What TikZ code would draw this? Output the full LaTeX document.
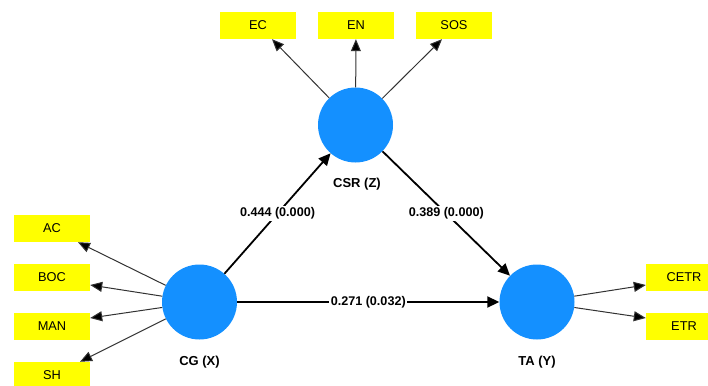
\documentclass[tikz,border=0pt]{standalone}
\usepackage{fontspec}
\setmainfont{Liberation Sans}
\usetikzlibrary{arrows.meta}
\definecolor{latblue}{RGB}{20,144,255}
\definecolor{indyel}{RGB}{255,255,0}
\definecolor{outgray}{RGB}{50,50,50}
\begin{document}
\begin{tikzpicture}[x=1pt,y=-1pt,
  latent/.style={circle,fill=latblue,minimum size=75pt,inner sep=0pt},
  indicator/.style={fill=indyel,minimum width=76pt,minimum height=27pt,inner sep=0pt,font=\fontsize{12.8}{15}\selectfont},
  latlabel/.style={font=\bfseries\fontsize{13}{15}\selectfont},
  outarrow/.style={draw=outgray,line width=1pt,-{Triangle[length=12pt,width=10pt,fill=black]}},
  patharrow/.style={draw=black,line width=1.8pt,-{Triangle[length=12pt,width=11pt]}},
  pathlabel/.style={fill=white,inner sep=1.5pt,font=\bfseries\fontsize{12.6}{15}\selectfont}]
\useasboundingbox (0,0) rectangle (708,385);
% latent variables
\node[latent] (csr) at (355.5,125) {};
\node[latent] (cg) at (199.5,302) {};
\node[latent] (ta) at (537,302) {};
\node[latlabel] (csrl) at (357,184) {CSR (Z)};
\node[latlabel] (cgl) at (199.5,362) {CG (X)};
\node[latlabel] (tal) at (537,362) {TA (Y)};
% indicators
\node[indicator] (ec) at (258,25.5) {EC};
\node[indicator] (en) at (356,25.5) {EN};
\node[indicator] (sos) at (454,25.5) {SOS};
\node[indicator] (ac) at (52,228.5) {AC};
\node[indicator] (boc) at (52,277) {BOC};
\node[indicator] (man) at (52,326) {MAN};
\node[indicator] (sh) at (52,375.5) {SH};
\node[indicator] (cetr) at (684,277) {CETR};
\node[indicator] (etr) at (684,326) {ETR};
% outer loadings
\draw[outarrow] (csr) -- ([xshift=14pt]ec.south);
\draw[outarrow] (csr) -- (en);
\draw[outarrow] (csr) -- ([xshift=-12pt]sos.south);
\draw[outarrow] (cg) -- ([xshift=26pt]ac.south);
\draw[outarrow] (cg) -- ([yshift=-8pt]boc.east);
\draw[outarrow] (cg) -- ([yshift=8pt]man.east);
\draw[outarrow] (cg) -- ([xshift=28pt]sh.north);
\draw[outarrow] (ta) -- ([yshift=-8pt]cetr.west);
\draw[outarrow] (ta) -- ([yshift=8pt]etr.west);
% structural paths
\draw[patharrow] (cg) -- node[pathlabel] {0.444 (0.000)} (csr);
\draw[patharrow] (csr) -- node[pathlabel] {0.389 (0.000)} (ta);
\draw[patharrow] (cg) -- node[pathlabel] {0.271 (0.032)} (ta);
\end{tikzpicture}
\end{document}
